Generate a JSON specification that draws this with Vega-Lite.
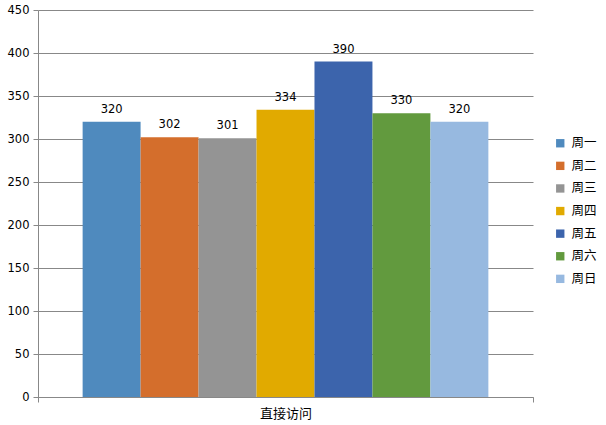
{
  "$schema": "https://vega.github.io/schema/vega-lite/v6.json",
  "width": 495,
  "height": 387,
  "autosize": "none",
  "padding": {"left": 38, "top": 10, "right": 73, "bottom": 28},
  "background": "white",
  "config": {
    "view": {"stroke": null},
    "font": "DejaVu Sans"
  },
  "data": {
    "values": [
      {"cat": "直接访问", "day": "周一", "v": 320},
      {"cat": "直接访问", "day": "周二", "v": 302},
      {"cat": "直接访问", "day": "周三", "v": 301},
      {"cat": "直接访问", "day": "周四", "v": 334},
      {"cat": "直接访问", "day": "周五", "v": 390},
      {"cat": "直接访问", "day": "周六", "v": 330},
      {"cat": "直接访问", "day": "周日", "v": 320}
    ]
  },
  "encoding": {
    "x": {
      "field": "cat", "type": "nominal",
      "scale": {"paddingInner": 0, "paddingOuter": 0},
      "axis": {
        "title": null, "labelAngle": 0, "tickBand": "extent",
        "domainColor": "#888888", "tickColor": "#888888", "tickSize": 5,
        "labelFont": "Noto Sans CJK SC", "labelFontSize": 13, "labelColor": "#000000",
        "labelPadding": 5
      }
    },
    "xOffset": {
      "field": "day", "type": "nominal",
      "sort": ["周一", "周二", "周三", "周四", "周五", "周六", "周日"],
      "scale": {"paddingInner": 0, "paddingOuter": 0.77}
    },
    "y": {
      "field": "v", "type": "quantitative",
      "scale": {"domain": [0, 450], "nice": false},
      "axis": {
        "title": null, "values": [0, 50, 100, 150, 200, 250, 300, 350, 400, 450],
        "labelOverlap": false, "labelFlush": false,
        "domainColor": "#888888", "tickColor": "#888888", "tickSize": 5,
        "gridColor": "#888888", "labelColor": "#000000", "labelFontSize": 11.5,
        "labelPadding": 4
      }
    }
  },
  "layer": [
    {
      "mark": {"type": "bar"},
      "encoding": {
        "color": {
          "field": "day", "type": "nominal",
          "sort": ["周一", "周二", "周三", "周四", "周五", "周六", "周日"],
          "scale": {
            "domain": ["周一", "周二", "周三", "周四", "周五", "周六", "周日"],
            "range": ["#4F8ABE", "#D46E2C", "#949494", "#E1AA00", "#3C64AC", "#629A3E", "#97B9E0"]
          },
          "legend": {
            "title": null, "orient": "none", "legendX": 516, "legendY": 127,
            "symbolType": "square", "symbolSize": 70, "symbolStrokeWidth": 0,
            "labelFont": "Noto Sans CJK SC", "labelFontSize": 12.5, "labelColor": "#000000",
            "rowPadding": 9.6, "labelOffset": 5
          }
        }
      }
    },
    {
      "mark": {"type": "text", "baseline": "bottom", "dy": -7, "fontSize": 11.5, "color": "#000000"},
      "encoding": {
        "text": {"field": "v", "type": "quantitative"}
      }
    }
  ]
}
